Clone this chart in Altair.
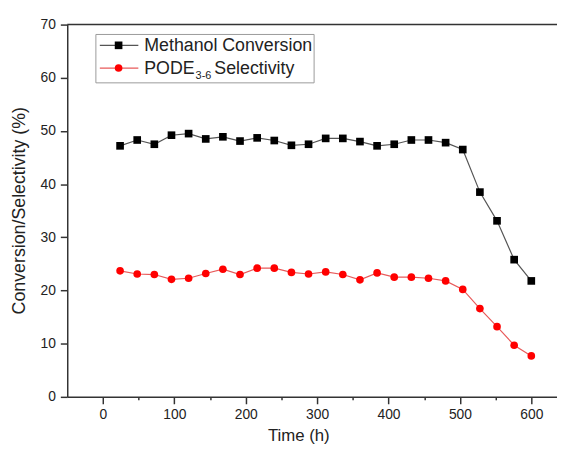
import altair as alt
import pandas as pd

# ---- data ----
time_h = [24, 48, 72, 96, 120, 144, 168, 192, 216, 240, 264, 288, 312,
          336, 360, 384, 408, 432, 456, 480, 504, 528, 552, 576, 600]
methanol_conversion = [47.2, 48.3, 47.5, 49.2, 49.5, 48.5, 48.9, 48.1, 48.7, 48.2,
                       47.3, 47.5, 48.6, 48.6, 48.0, 47.2, 47.5, 48.3, 48.3, 47.8,
                       46.5, 38.5, 33.1, 25.8, 21.8]
pode_selectivity = [23.7, 23.1, 23.0, 22.1, 22.3, 23.2, 24.0, 23.0, 24.2, 24.2,
                    23.4, 23.1, 23.5, 23.0, 22.0, 23.3, 22.5, 22.5, 22.3, 21.8,
                    20.2, 16.6, 13.2, 9.7, 7.7]
series_names = ["Methanol Conversion", "PODE3-6 Selectivity"]
x_tick_values = [0, 50, 100, 150, 200, 250, 300, 350, 400, 450, 500, 550, 600]
y_tick_values = [0, 5, 10, 15, 20, 25, 30, 35, 40, 45, 50, 55, 60, 65, 70]

df = pd.DataFrame({
    "time": time_h + time_h,
    "value": methanol_conversion + pode_selectivity,
    "series": [series_names[0]] * len(time_h) + [series_names[1]] * len(time_h),
})

FONT = "Liberation Sans"
AX = "#333333"
TXT = "#222222"

x_enc = alt.X(
    "time:Q",
    scale=alt.Scale(domain=[-50, 636], nice=False, zero=False),
    axis=alt.Axis(
        values=x_tick_values,
        labelExpr="datum.value % 100 === 0 ? datum.label : ''",
        tickSize={"condition": {"test": "datum.value % 100 === 0", "value": 7}, "value": 3},
        title="Time (h)",
        titleX=234, titleY=44, titleAlign="center", titleBaseline="alphabetic",
        titleFontSize=17, labelFontSize=14, labelPadding=4,
        grid=False,
    ),
)
y_enc = alt.Y(
    "value:Q",
    scale=alt.Scale(domain=[0, 70], nice=False),
    axis=alt.Axis(
        values=y_tick_values,
        labelExpr="datum.value % 10 === 0 ? datum.label : ''",
        tickSize={"condition": {"test": "datum.value % 10 === 0", "value": 7}, "value": 3},
        title="Conversion/Selectivity (%)",
        titleX=-48, titleY=188, titleAngle=270, titleAlign="center", titleBaseline="middle",
        titleFontSize=18, labelFontSize=14, labelPadding=5,
        grid=False,
    ),
)

base = alt.Chart(df)
lines = base.mark_line(strokeWidth=1.2).encode(
    x=x_enc, y=y_enc,
    stroke=alt.Stroke("series:N", scale=alt.Scale(domain=series_names, range=["#555555", "#e85a5a"]), legend=None),
    detail="series:N",
)
points = base.mark_point(filled=True, size=60, opacity=1).encode(
    x="time:Q", y="value:Q",
    fill=alt.Fill("series:N", scale=alt.Scale(domain=series_names, range=["#000000", "#ff0000"]), legend=None),
    shape=alt.Shape("series:N", scale=alt.Scale(domain=series_names, range=["square", "circle"]), legend=None),
)
top_line = alt.Chart(pd.DataFrame({"v": [70]})).mark_rule(color=AX, strokeWidth=1.5).encode(y=alt.Y("v:Q"))

# ---- hand-drawn legend (box, swatches, labels) ----
one = pd.DataFrame({"a": [0]})
leg_box = alt.Chart(one).mark_rect(fill="white", stroke="#999999", strokeWidth=1).encode(
    x=alt.value(29), x2=alt.value(250), y=alt.value(10), y2=alt.value(59))
leg_line1 = alt.Chart(one).mark_rule(color="#555555", strokeWidth=1.2).encode(
    x=alt.value(33), x2=alt.value(72), y=alt.value(21))
leg_line2 = alt.Chart(one).mark_rule(color="#e85a5a", strokeWidth=1.2).encode(
    x=alt.value(33), x2=alt.value(72), y=alt.value(44))
leg_pt1 = alt.Chart(one).mark_point(shape="square", filled=True, size=60, color="#000000", opacity=1).encode(
    x=alt.value(52), y=alt.value(21))
leg_pt2 = alt.Chart(one).mark_point(shape="circle", filled=True, size=60, color="#ff0000", opacity=1).encode(
    x=alt.value(52), y=alt.value(44))
leg_t1 = alt.Chart(one).mark_text(align="left", baseline="middle", fontSize=18, font=FONT, color=TXT).encode(
    x=alt.value(78), y=alt.value(22), text=alt.value("Methanol Conversion"))
leg_t2a = alt.Chart(one).mark_text(align="left", baseline="middle", fontSize=18, font=FONT, color=TXT).encode(
    x=alt.value(78), y=alt.value(45), text=alt.value("PODE"))
leg_t2b = alt.Chart(one).mark_text(align="left", baseline="middle", fontSize=11, font=FONT, color=TXT).encode(
    x=alt.value(130), y=alt.value(52), text=alt.value("3-6"))
leg_t2c = alt.Chart(one).mark_text(align="left", baseline="middle", fontSize=18, font=FONT, color=TXT).encode(
    x=alt.value(149), y=alt.value(45), text=alt.value("Selectivity"))

chart = alt.layer(
    top_line, lines, points,
    leg_box, leg_line1, leg_line2, leg_pt1, leg_pt2, leg_t1, leg_t2a, leg_t2b, leg_t2c,
).properties(
    width=496, height=377,
    autosize=alt.AutoSizeParams(type="none"),
    padding={"left": 60, "top": 14, "right": 0, "bottom": 49},
).configure_view(
    stroke=None
).configure_axis(
    domainColor=AX, domainWidth=1.5, tickColor=AX, tickWidth=1.5,
    labelColor=TXT, titleColor=TXT, labelFont=FONT, titleFont=FONT,
    titleFontWeight="normal",
)

chart.save("out.html", embed_options={"renderer": "svg", "actions": False})
